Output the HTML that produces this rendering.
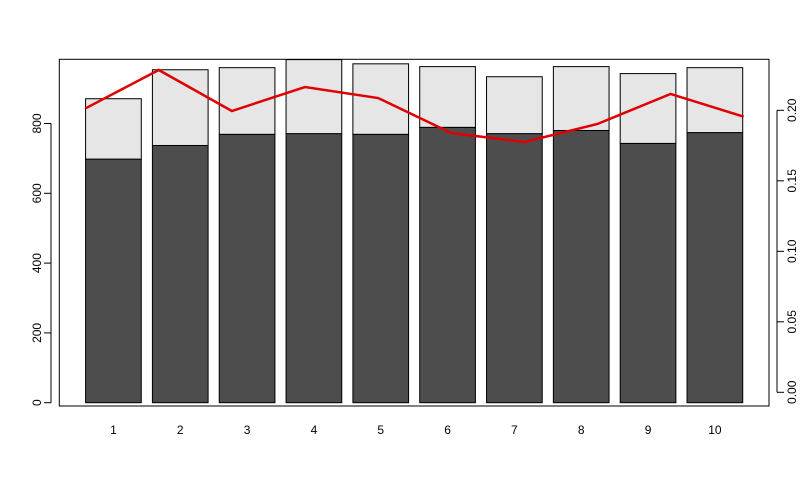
<!DOCTYPE html>
<html><head><meta charset="utf-8"><style>body{margin:0;background:#fff}svg{display:block;font-family:"Liberation Sans",Arial,sans-serif}</style></head>
<body>
<svg id="chart" width="800" height="480">
<rect x="59.3" y="59.3" width="709.7" height="346.7" fill="none" stroke="#000" stroke-width="1"/>
<g id="bars"></g><g id="line"></g><g id="axes"></g>
</svg>
<script>
const categories=["1","2","3","4","5","6","7","8","9","10"];
const lowerValues=[698,737,769,771,769,789,771,780,743,774];
const totalValues=[871,954,960,983,971,963,934,963,943,960];
const rateValues=[0.2014,0.2286,0.1995,0.2165,0.2087,0.1839,0.1775,0.1903,0.2116,0.1955];
const leftTicks=[0,200,400,600,800];
const rightTicks=["0.00","0.05","0.10","0.15","0.20"];
const NS="http://www.w3.org/2000/svg";
const X0=59.3,X1=769,Y0=59.3,Y1=406;
const xs=u=>X0+(u+0.272)*(X1-X0)/12.744;
const xLine=i=>85.6+i*(743.7-85.6)/9;
const yL=v=>402.7-v*0.349;
const yR=v=>392.3-v*1410;
function mk(t,a,p){const e=document.createElementNS(NS,t);for(const k in a)e.setAttribute(k,a[k]);p.appendChild(e);return e;}
const bars=document.getElementById('bars'),line=document.getElementById('line'),axes=document.getElementById('axes');
categories.forEach((c,i)=>{
 const l=0.2+i*1.2,x=xs(l),w=xs(l+1)-x;
 const r1=mk('rect',{x:x,y:yL(lowerValues[i]),width:w,height:yL(0)-yL(lowerValues[i]),fill:'#4d4d4d',stroke:'#000','stroke-width':1},bars);
 
 
 const r2=mk('rect',{x:x,y:Math.max(Y0,yL(totalValues[i])),width:w,height:yL(lowerValues[i])-Math.max(Y0,yL(totalValues[i])),fill:'#e6e6e6',stroke:'#000','stroke-width':1},bars);
 
 
 const t=mk('text',{x:xs(l+0.5),y:434,'text-anchor':'middle','font-size':12},axes);
 t.textContent=c;
 
 
});
const pts=rateValues.map((v,i)=>xLine(i)+','+yR(v)).join(' ');
const pl=mk('polyline',{points:pts,fill:'none',stroke:'#e00000','stroke-width':2.5},line);


mk('line',{x1:51,x2:51,y1:yL(0),y2:yL(800),stroke:'#000'},axes);
leftTicks.forEach(v=>{
 mk('line',{x1:44,x2:51,y1:yL(v),y2:yL(v),stroke:'#000'},axes);
 const t=mk('text',{x:0,y:0,transform:`translate(41,${yL(v)}) rotate(-90)`,'text-anchor':'middle','font-size':12},axes);
 t.textContent=v;
 
 
});
mk('line',{x1:777,x2:777,y1:yR(0),y2:yR(0.2),stroke:'#000'},axes);
rightTicks.forEach(s=>{
 const v=parseFloat(s);
 mk('line',{x1:777,x2:784,y1:yR(v),y2:yR(v),stroke:'#000'},axes);
 const t=mk('text',{x:0,y:0,transform:`translate(796,${yR(v)}) rotate(-90)`,'text-anchor':'middle','font-size':12},axes);
 t.textContent=s;
 
 
});
</script>
</body></html>
